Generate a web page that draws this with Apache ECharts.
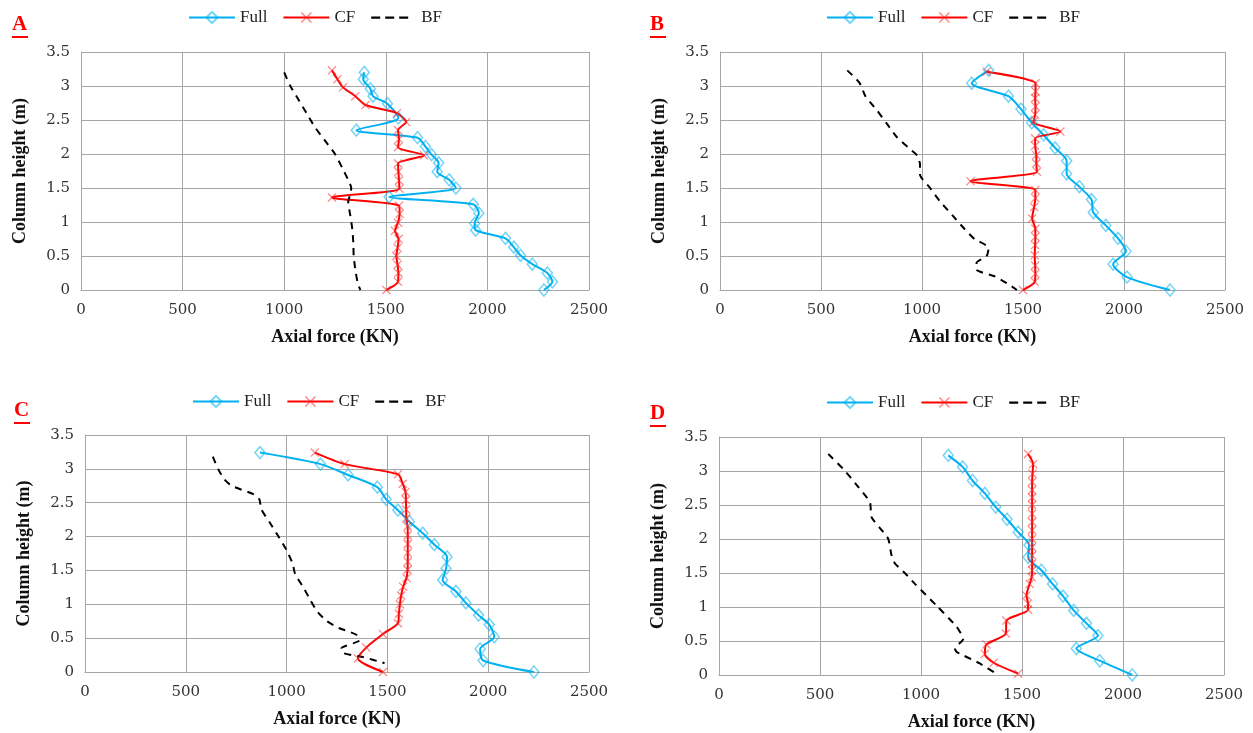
<!DOCTYPE html>
<html>
<head>
<meta charset="UTF-8">
<title>Axial force vs column height</title>
<script src="https://cdn.jsdelivr.net/npm/echarts@6/dist/echarts.min.js"></script>
<style>
  html, body { margin: 0; padding: 0; background: #fff; }
  #main { width: 1253px; height: 733px; }
</style>
</head>
<body>
<div id="main"></div>
<script type="text/javascript">
// axis ticks
var xTicks = [0, 500, 1000, 1500, 2000, 2500];
var yTicks = [0, 0.5, 1, 1.5, 2, 2.5, 3, 3.5];
var panelNames = ['A', 'B', 'C', 'D'];
var seriesNames = ['Full', 'CF', 'BF'];

// [axial force (KN), column height (m)]
// panel A
var fullA = [[1394,3.20],[1389,3.10],[1424,2.96],[1437,2.85],[1508,2.74],[1562,2.53],[1355,2.35],[1656,2.24],[1695,2.11],[1725,1.99],[1760,1.87],[1753,1.74],[1812,1.62],[1845,1.50],[1516,1.37],[1930,1.26],[1958,1.13],[1937,0.98],[1942,0.88],[2089,0.76],[2130,0.63],[2163,0.51],[2221,0.38],[2295,0.25],[2320,0.12],[2278,0.00]];
var cfA = [[1235,3.23],[1262,3.10],[1290,2.98],[1350,2.85],[1400,2.72],[1555,2.60],[1600,2.47],[1560,2.35],[1565,2.22],[1560,2.10],[1688,1.98],[1560,1.86],[1562,1.74],[1565,1.61],[1567,1.49],[1235,1.36],[1565,1.24],[1568,1.12],[1560,0.99],[1545,0.87],[1563,0.75],[1558,0.62],[1552,0.50],[1558,0.37],[1562,0.25],[1560,0.12],[1503,0.00]];
var bfA = [[1000,3.20],[1030,3.00],[1070,2.80],[1110,2.60],[1150,2.40],[1200,2.20],[1250,2.00],[1285,1.80],[1318,1.60],[1330,1.50],[1325,1.40],[1315,1.30],[1325,1.10],[1335,0.90],[1340,0.70],[1342,0.50],[1350,0.30],[1362,0.10],[1375,0.00]];
// panel B
var fullB = [[1330,3.23],[1246,3.04],[1428,2.85],[1490,2.66],[1543,2.46],[1602,2.28],[1659,2.09],[1716,1.90],[1716,1.71],[1779,1.52],[1839,1.33],[1848,1.14],[1910,0.95],[1970,0.76],[2010,0.57],[1946,0.38],[2015,0.19],[2228,0.00]];
var cfB = [[1320,3.21],[1562,3.04],[1562,2.92],[1560,2.82],[1562,2.70],[1560,2.58],[1552,2.47],[1685,2.33],[1560,2.23],[1560,2.12],[1566,1.98],[1566,1.86],[1569,1.74],[1240,1.60],[1561,1.47],[1561,1.35],[1555,1.22],[1545,1.05],[1561,0.90],[1561,0.78],[1560,0.66],[1558,0.51],[1560,0.36],[1561,0.24],[1558,0.12],[1500,0.00]];
var bfB = [[630,3.23],[690,3.05],[720,2.85],[775,2.65],[825,2.45],[875,2.25],[950,2.05],[975,1.98],[990,1.85],[990,1.70],[1040,1.50],[1090,1.30],[1150,1.10],[1210,0.90],[1260,0.75],[1330,0.62],[1320,0.50],[1270,0.40],[1270,0.30],[1360,0.20],[1420,0.10],[1470,0.00]];
// panel C
var fullC = [[868,3.24],[1168,3.07],[1305,2.91],[1450,2.73],[1494,2.55],[1552,2.39],[1609,2.22],[1675,2.05],[1733,1.88],[1796,1.70],[1791,1.53],[1774,1.36],[1840,1.19],[1889,1.02],[1952,0.84],[2005,0.70],[2030,0.52],[1960,0.34],[1975,0.17],[2227,0.00]];
var cfC = [[1140,3.24],[1288,3.07],[1552,2.92],[1576,2.78],[1590,2.66],[1592,2.54],[1593,2.40],[1594,2.27],[1600,2.15],[1601,2.02],[1601,1.89],[1601,1.76],[1601,1.63],[1600,1.51],[1595,1.39],[1578,1.26],[1568,1.13],[1562,1.00],[1557,0.86],[1552,0.72],[1478,0.56],[1395,0.36],[1354,0.20],[1478,0.00]];
var bfC = [[634,3.18],[660,3.00],[690,2.85],[728,2.75],[840,2.62],[865,2.55],[875,2.40],[918,2.20],[960,2.00],[1000,1.80],[1030,1.60],[1042,1.45],[1083,1.25],[1120,1.05],[1150,0.90],[1200,0.75],[1260,0.65],[1346,0.55],[1362,0.47],[1272,0.35],[1280,0.28],[1380,0.22],[1486,0.13]];
// panel D
var fullD = [[1135,3.23],[1206,3.06],[1255,2.86],[1316,2.67],[1370,2.47],[1426,2.29],[1481,2.10],[1535,1.91],[1530,1.73],[1596,1.54],[1651,1.34],[1703,1.16],[1756,0.95],[1819,0.76],[1876,0.58],[1769,0.39],[1885,0.21],[2046,0.00]];
var cfD = [[1530,3.25],[1555,3.10],[1552,2.96],[1550,2.84],[1550,2.72],[1550,2.61],[1550,2.50],[1550,2.37],[1550,2.25],[1550,2.13],[1550,2.00],[1550,1.88],[1550,1.76],[1550,1.64],[1550,1.54],[1548,1.44],[1538,1.34],[1522,1.17],[1530,1.05],[1530,0.96],[1423,0.80],[1420,0.61],[1324,0.45],[1316,0.31],[1360,0.18],[1481,0.02]];
var bfD = [[541,3.25],[615,3.03],[680,2.80],[747,2.54],[755,2.32],[800,2.15],[838,2.00],[854,1.76],[871,1.64],[920,1.50],[970,1.34],[1077,1.02],[1176,0.71],[1209,0.53],[1168,0.39],[1176,0.34],[1291,0.17],[1382,0.00]];

var panelData = [[fullA, cfA, bfA], [fullB, cfB, bfB], [fullC, cfC, bfC], [fullD, cfD, bfD]];

var grids = [
  {left: 81, top: 52, width: 508, height: 238},
  {left: 720, top: 52, width: 505, height: 238},
  {left: 85, top: 435, width: 504, height: 237},
  {left: 719, top: 437, width: 505, height: 238}
];
var legendPos = [{left: 188, top: 9}, {left: 826, top: 9}, {left: 192, top: 393}, {left: 826, top: 394}];
var letterPos = [{x: 12, y: 14}, {x: 650, y: 14}, {x: 14, y: 400}, {x: 650, y: 403}];

var serif = 'Liberation Serif';
var gridColor = '#a6a6a6';
var xSymbol = 'path://M0,1L1,0L5,4L9,0L10,1L6,5L10,9L9,10L5,6L1,10L0,9L4,5Z';
// three short dashes for the BF legend entry (tiny corner marks fix the bounding box)
var dashIcon = 'path://M0,0L0.01,0L0,0.01Z M0,14L0.01,14L0,13.99Z M46,0L45.99,0L46,0.01Z M1,6h9v2.2h-9z M15,6h9v2.2h-9z M29,6h9v2.2h-9z';

var option = {
  animation: false,
  backgroundColor: '#fff',
  grid: [], xAxis: [], yAxis: [], series: [], legend: [], graphic: []
};

panelData.forEach(function (pd, i) {
  option.grid.push(grids[i]);
  option.xAxis.push({
    type: 'value', gridIndex: i,
    min: xTicks[0], max: xTicks[xTicks.length - 1], interval: xTicks[1] - xTicks[0],
    name: 'Axial force (KN)', nameLocation: 'middle', nameGap: 38,
    nameTextStyle: {fontFamily: serif, fontWeight: 'bold', fontSize: 18, color: '#111'},
    axisLine: {lineStyle: {color: gridColor}},
    axisTick: {show: false},
    axisLabel: {fontFamily: 'DejaVu Serif', fontSize: 15, color: '#333', margin: 13,
      formatter: function (v) { return String(v); }},
    splitLine: {show: true, lineStyle: {color: gridColor, width: 1}}
  });
  option.yAxis.push({
    type: 'value', gridIndex: i,
    min: yTicks[0], max: yTicks[yTicks.length - 1], interval: yTicks[1] - yTicks[0],
    name: 'Column height (m)', nameLocation: 'middle', nameGap: 52,
    nameTextStyle: {fontFamily: serif, fontWeight: 'bold', fontSize: 18, color: '#111'},
    axisLine: {show: true, lineStyle: {color: gridColor}},
    axisTick: {show: false},
    axisLabel: {fontFamily: 'DejaVu Serif', fontSize: 15, color: '#333', margin: 11},
    splitLine: {show: true, lineStyle: {color: gridColor, width: 1}}
  });
  option.series.push({
    name: seriesNames[0], type: 'line', xAxisIndex: i, yAxisIndex: i,
    data: pd[0], smooth: 0.25,
    symbol: 'diamond', symbolSize: [10, 12], showAllSymbol: true,
    lineStyle: {color: '#00b0f0', width: 2},
    itemStyle: {color: 'rgba(255,255,255,0)', borderColor: 'rgba(0,176,240,0.55)', borderWidth: 1.5}
  });
  option.series.push({
    name: seriesNames[1], type: 'line', xAxisIndex: i, yAxisIndex: i,
    data: pd[1], smooth: 0.25,
    symbol: xSymbol, symbolSize: 9, showAllSymbol: true,
    lineStyle: {color: '#ff0000', width: 2},
    itemStyle: {color: 'rgba(255,40,40,0.55)', borderWidth: 0}
  });
  option.series.push({
    name: seriesNames[2], type: 'line', xAxisIndex: i, yAxisIndex: i,
    data: pd[2], smooth: 0.2, symbol: 'none',
    lineStyle: {color: '#000', width: 2, type: [7, 6]},
    itemStyle: {color: '#000'}
  });
  option.legend.push({
    left: legendPos[i].left, top: legendPos[i].top, padding: 0,
    data: [seriesNames[0], seriesNames[1], {name: seriesNames[2], icon: dashIcon}],
    itemWidth: 46, itemHeight: 14, itemGap: 15,
    textStyle: {fontFamily: serif, fontSize: 17, color: '#222'}
  });
  // panel letter (red, bold, underlined)
  option.graphic.push({
    type: 'text', left: letterPos[i].x, top: letterPos[i].y,
    style: {text: panelNames[i], fill: '#ff0000', font: 'bold 21px "Liberation Serif"'}
  });
  option.graphic.push({
    type: 'rect', left: letterPos[i].x, top: letterPos[i].y + 22,
    shape: {width: 16, height: 2}, style: {fill: '#ff0000'}
  });
});

var myChart = echarts.init(document.getElementById('main'));
myChart.setOption(option);
</script>
</body>
</html>
